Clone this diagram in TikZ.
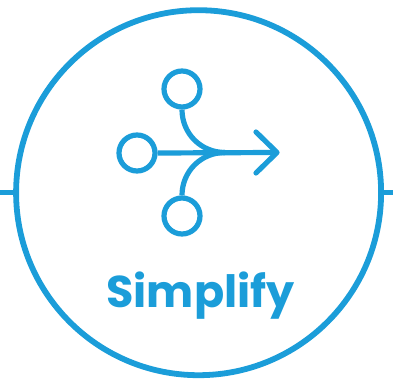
\documentclass[tikz,border=0pt]{standalone}
\usepackage{fontspec}
\setmainfont{Poppins}
\definecolor{brandblue}{RGB}{27,157,217}
\tikzset{
  ring/.style={circle,draw=brandblue,line width=5.8pt,inner sep=0pt,minimum size=365pt},
  dot/.style={circle,draw=brandblue,line width=5.2pt,inner sep=0pt,minimum size=36pt},
  link/.style={draw=brandblue,line width=5.2pt},
  stub/.style={draw=brandblue,line width=5pt},
  tip/.style={draw=brandblue,line width=5.2pt,line cap=round,line join=round},
  label/.style={text=brandblue,inner sep=0pt,font=\fontsize{44.5}{44.5}\selectfont\bfseries}
}
\begin{document}
\begin{tikzpicture}[x=1pt,y=-1pt]
\useasboundingbox (0,0) rectangle (393,379);
\node[ring] (big) at (198.6,192.7) {};
\node[dot] (top) at (182,89) {};
\node[dot] (left) at (137,153) {};
\node[dot] (bottom) at (182,216) {};
\coordinate (merge) at (225,152.5);
\coordinate (tipend) at (277,152.5);
\coordinate (headA) at (256,132);
\coordinate (headB) at (256,173);
\coordinate (stubL) at (0,192.7);
\coordinate (stubR) at (393,192.7);
\draw[stub] (stubL) -- (big.west);
\draw[stub] (big.east) -- (stubR);
\draw[link] (left.east) -- (tipend);
\draw[link] (top.south) .. controls +(0,24) and +(-24,0) .. (merge);
\draw[link] (bottom.north) .. controls +(0,-24) and +(-24,0) .. (merge);
\draw[tip] (headA) -- (tipend) -- (headB);
\node[label,anchor=base] (title) at (200.5,307) {Simplify};
\end{tikzpicture}
\end{document}
